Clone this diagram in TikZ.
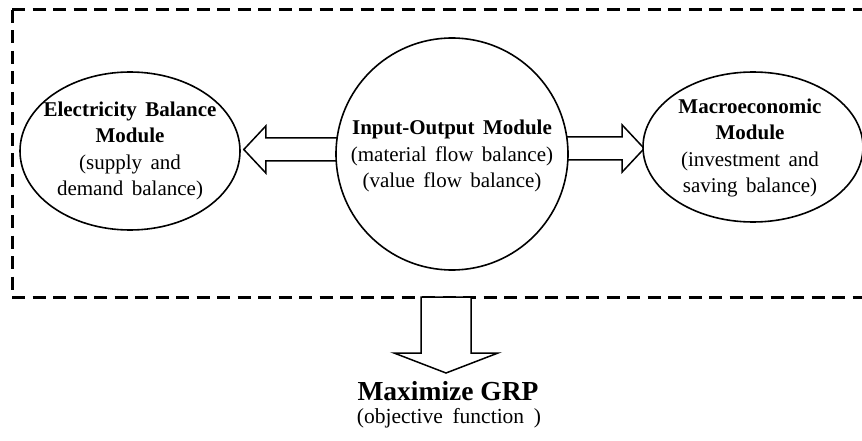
\documentclass[tikz,border=0pt]{standalone}
\usepackage{fontspec}
\setmainfont{Liberation Serif}
\usetikzlibrary{shapes.geometric,backgrounds,calc}
\newcommand\widespacing[1]{\spaceskip=#1em plus 0.1em\relax}
\begin{document}
\begin{tikzpicture}[x=1pt,y=-1pt,
  module/.style={draw,line width=1.6pt,fill=white,inner sep=0pt},
  modtext/.style={align=center,inner sep=0pt,
    font=\fontsize{21}{26.5}\selectfont\widespacing{0.4}},
  hollow/.style={draw,line width=1.5pt,fill=white,line join=miter},
  frame/.style={line width=3pt,dash pattern=on 13pt off 7.5pt}]
\useasboundingbox (0,0) rectangle (862,441);
\clip (0,0) rectangle (862,441);

% dashed boundary of the model (open to the right)
\draw[frame] (12,10) -- (900,10);
\draw[frame] (12,10) -- (12,297) -- (900,297);

% the three modules
\node[module,ellipse,minimum width=220pt,minimum height=158pt] (elec) at (130,151) {};
\node[modtext] (elecT) at (elec.center)
  {\textbf{Electricity Balance}\\\textbf{Module}\\(supply and\\demand balance)};

\node[module,circle,minimum size=232pt] (io) at (452,154) {};
\node[modtext] (ioT) at (452,156)
  {\textbf{Input-Output Module}\\(material flow balance)\\(value flow balance)};

\node[module,ellipse,minimum width=220pt,minimum height=150pt] (macro) at (753,147) {};
\node[modtext] (macroT) at (750,148)
  {\textbf{Macroeconomic}\\\textbf{Module}\\(investment and\\saving balance)};

% hollow arrows from the input-output module, tucked behind it
\begin{scope}[on background layer]
  \draw[hollow] ($(elec.east)+(3,-1.5)$) -- ++(22,-23.5) -- ++(0,12) -- ++(190,0)
    -- ++(0,23) -- ++(-190,0) -- ++(0,12) -- cycle;
  \draw[hollow] ($(macro.west)+(2,1.5)$) -- ++(-22,-23.5) -- ++(0,12) -- ++(-190,0)
    -- ++(0,23) -- ++(190,0) -- ++(0,12) -- cycle;
\end{scope}

% objective
\node[anchor=base,inner sep=0pt,font=\fontsize{27.5}{30}\selectfont\bfseries] (goal) at (448,400) {Maximize GRP};
\node[anchor=base,inner sep=0pt,font=\fontsize{21.5}{24}\selectfont\widespacing{0.45}] (goalsub) at (449,423) {(objective function )};

\coordinate (tip) at ($(goal.base)+(-2,-27)$);
\draw[hollow] (tip) -- ++(-52,-20) -- ++(27,0) -- ++(0,-56) -- ++(50,0)
  -- ++(0,56) -- ++(27,0) -- cycle;
\end{tikzpicture}
\end{document}
